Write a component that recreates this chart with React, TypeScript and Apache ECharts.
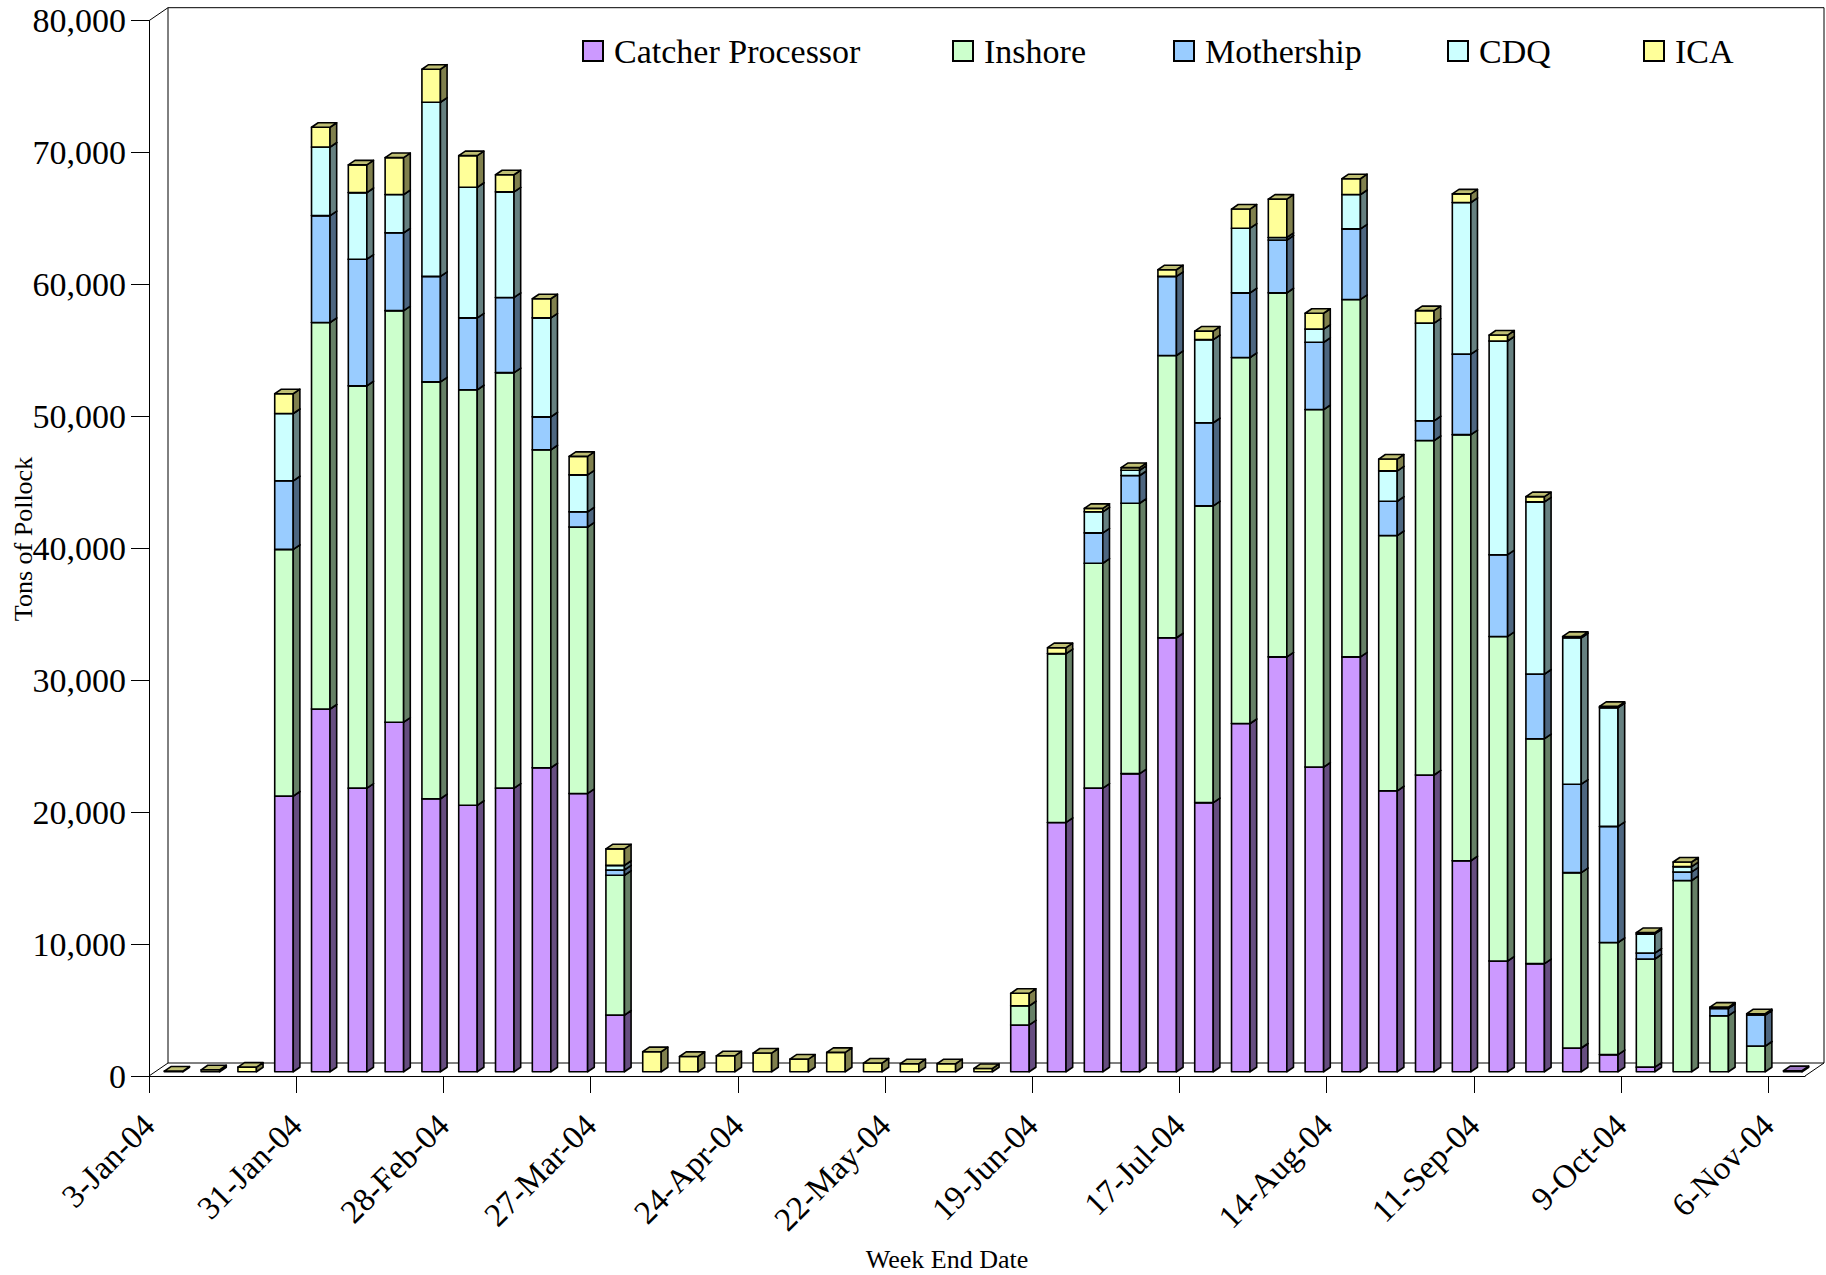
import React, { useEffect, useRef } from "react";
import * as echarts from "echarts";

// ---------------- DATA ----------------
const WEEKS = [
  "3-Jan-04", "10-Jan-04", "17-Jan-04", "24-Jan-04", "31-Jan-04",
  "7-Feb-04", "14-Feb-04", "21-Feb-04", "28-Feb-04",
  "6-Mar-04", "13-Mar-04", "20-Mar-04", "27-Mar-04",
  "3-Apr-04", "10-Apr-04", "17-Apr-04", "24-Apr-04",
  "1-May-04", "8-May-04", "15-May-04", "22-May-04", "29-May-04",
  "5-Jun-04", "12-Jun-04", "19-Jun-04", "26-Jun-04",
  "3-Jul-04", "10-Jul-04", "17-Jul-04", "24-Jul-04", "31-Jul-04",
  "7-Aug-04", "14-Aug-04", "21-Aug-04", "28-Aug-04",
  "4-Sep-04", "11-Sep-04", "18-Sep-04", "25-Sep-04",
  "2-Oct-04", "9-Oct-04", "16-Oct-04", "23-Oct-04", "30-Oct-04",
  "6-Nov-04",
];
// tick labels sit on the category boundaries (left edge of each week)
const TICK_LABELS = [...WEEKS, "13-Nov-04"];

const SERIES_NAMES = ["Catcher Processor", "Inshore", "Mothership", "CDQ", "ICA"];

const CATCHER_PROCESSOR = [
  0, 0, 0, 20900, 27500, 21500, 26500, 20700, 20200, 21500,
  23050, 21100, 4300, 0, 0, 0, 0, 0, 0, 0,
  0, 0, 0, 3550, 18900, 21500, 22600, 32900, 20400, 26400,
  31450, 23100, 31450, 21300, 22500, 16000, 8400, 8200, 1800, 1300,
  350, 0, 0, 0, 80,
];
const INSHORE = [
  0, 0, 0, 18700, 29300, 30500, 31200, 31600, 31500, 31500,
  24100, 20200, 10600, 0, 0, 0, 0, 0, 0, 0,
  0, 0, 0, 1450, 12800, 17050, 20500, 21400, 22500, 27750,
  27600, 27100, 27100, 19350, 25350, 32300, 24600, 17050, 13300, 8500,
  8200, 14500, 4250, 1950, 0,
];
const MOTHERSHIP = [
  0, 0, 0, 5200, 8100, 9600, 5900, 8000, 5450, 5700,
  2500, 1150, 400, 0, 0, 0, 0, 0, 0, 0,
  0, 0, 0, 0, 0, 2300, 2100, 6000, 6300, 4900,
  4000, 5100, 5350, 2600, 1500, 6100, 6200, 4900, 6700, 8800,
  450, 650, 550, 2350, 0,
];
const CDQ = [
  0, 0, 0, 5100, 5200, 5050, 2900, 13200, 9900, 8000,
  7500, 2800, 350, 0, 0, 0, 0, 0, 0, 0,
  0, 0, 0, 0, 0, 1600, 400, 0, 6300, 4900,
  200, 1000, 2600, 2300, 7400, 11500, 16200, 13050, 11100, 9000,
  1450, 400, 0, 0, 0,
];
const ICA = [
  50, 150, 350, 1500, 1500, 2100, 2800, 2500, 2400, 1300,
  1450, 1400, 1250, 1520, 1160, 1210, 1420, 960, 1470, 660,
  610, 610, 250, 950, 450, 260, 200, 500, 650, 1450,
  2900, 1200, 1200, 900, 950, 650, 450, 400, 100, 100,
  100, 350, 100, 100, 0,
];

const Y_MIN = 0;
const Y_MAX = 80000;
const Y_INTERVAL = 10000;

// ---------------- STYLE ----------------
const FRONT_COLORS = ["#CC99FF", "#CCFFCC", "#99CCFF", "#CCFFFF", "#FFFF99"];
const FONT = "Liberation Serif";
const FLOOR_DX = 19; // 3D depth of the plot floor
const FLOOR_DY = -13;
const BAR_DEPTH_FRAC = 0.35; // bar depth as share of the floor depth
const BAR_FRONT_FRAC = 0.325; // front face position inside the depth
const BAR_WIDTH_FRAC = 0.503; // front face width as share of category
const LEGEND_LEFTS = [582, 952, 1173, 1447, 1643];

function shade(hex: string, f: number): string {
  const n = parseInt(hex.slice(1), 16);
  const r = Math.round(((n >> 16) & 255) * f);
  const g = Math.round(((n >> 8) & 255) * f);
  const b = Math.round((n & 255) * f);
  return "rgb(" + r + "," + g + "," + b + ")";
}

function buildStacked(): number[][][] {
  const all = [CATCHER_PROCESSOR, INSHORE, MOTHERSHIP, CDQ, ICA];
  const acc = WEEKS.map(() => 0);
  return all.map((arr) =>
    arr.map((v, i) => {
      const base = acc[i];
      acc[i] = base + v;
      return [i, base, base + v];
    })
  );
}

function makeBarRender(colorIdx: number) {
  const front = FRONT_COLORS[colorIdx];
  const side = shade(front, 0.5);
  const top = shade(front, 0.75);
  return (params: any, api: any) => {
    const i = api.value(0);
    const b = api.value(1);
    const t = api.value(2);
    if (!(t > b)) return null;
    const cw = api.size([1, 0])[0];
    const pb = api.coord([i, b]);
    const pt = api.coord([i, t]);
    const fw = cw * BAR_WIDTH_FRAC;
    const ox = FLOOR_DX * BAR_FRONT_FRAC;
    const oy = FLOOR_DY * BAR_FRONT_FRAC;
    const dx = FLOOR_DX * BAR_DEPTH_FRAC;
    const dy = FLOOR_DY * BAR_DEPTH_FRAC;
    const L = pb[0] + ox - fw / 2;
    const R = L + fw;
    const yb = pb[1] + oy;
    const yt = pt[1] + oy;
    const st = { stroke: "#000", lineWidth: 1.6, lineJoin: "round" };
    return {
      type: "group",
      children: [
        {
          type: "polygon",
          shape: { points: [[L, yt], [R, yt], [R, yb], [L, yb]] },
          style: { ...st, fill: front },
        },
        {
          type: "polygon",
          shape: { points: [[R, yb], [R, yt], [R + dx, yt + dy], [R + dx, yb + dy]] },
          style: { ...st, fill: side },
        },
        {
          type: "polygon",
          shape: { points: [[L, yt], [R, yt], [R + dx, yt + dy], [L + dx, yt + dy]] },
          style: { ...st, fill: top },
        },
      ],
    };
  };
}

function wallsRender(params: any) {
  const { x, y, width, height } = params.coordSys;
  const ls = { stroke: "#000", lineWidth: 1, fill: "none" };
  return {
    type: "group",
    children: [
      {
        type: "rect",
        shape: { x: x + FLOOR_DX, y: y + FLOOR_DY, width, height },
        style: { fill: "#fff", stroke: "#000", lineWidth: 1 },
      },
      { type: "line", shape: { x1: x, y1: y, x2: x + FLOOR_DX, y2: y + FLOOR_DY }, style: ls },
      {
        type: "line",
        shape: { x1: x, y1: y + height, x2: x + FLOOR_DX, y2: y + height + FLOOR_DY },
        style: ls,
      },
      {
        type: "line",
        shape: {
          x1: x + width,
          y1: y + height,
          x2: x + width + FLOOR_DX,
          y2: y + height + FLOOR_DY,
        },
        style: ls,
      },
    ],
  };
}

export default function App() {
  const ref = useRef<HTMLDivElement>(null);
  useEffect(() => {
    if (!ref.current) return;
    const chart = echarts.init(ref.current, undefined, { renderer: "svg" });
    const stacked = buildStacked();

    const series: any[] = [
      {
        type: "custom",
        name: "__walls",
        silent: true,
        z: 0,
        data: [[0, 0]],
        renderItem: wallsRender,
        xAxisIndex: 0,
        yAxisIndex: 0,
      },
    ];
    SERIES_NAMES.forEach((name, k) => {
      series.push({
        type: "custom",
        name,
        silent: true,
        z: 2,
        itemStyle: { color: FRONT_COLORS[k] },
        data: stacked[k],
        encode: { x: 0, y: [1, 2] },
        renderItem: makeBarRender(k),
        xAxisIndex: 0,
        yAxisIndex: 0,
      });
    });

    const legends = SERIES_NAMES.map((name, k) => ({
      data: [name],
      left: LEGEND_LEFTS[k],
      top: 31,
      padding: 0,
      selectedMode: false,
      icon: "rect",
      itemWidth: 20,
      itemHeight: 20,
      itemStyle: { borderColor: "#000", borderWidth: 2 },
      textStyle: {
        fontFamily: FONT,
        fontSize: 34,
        color: "#000",
        lineHeight: 40,
        padding: [0, 0, 0, 6],
      },
    }));

    chart.setOption({
      animation: false,
      backgroundColor: "#fff",
      textStyle: { fontFamily: FONT },
      grid: { left: 149, top: 20.7, width: 1656, height: 1055.3, containLabel: false },
      legend: legends,
      xAxis: [
        {
          type: "category",
          data: WEEKS,
          boundaryGap: true,
          position: "bottom",
          show: false,
        },
        {
          type: "category",
          data: TICK_LABELS,
          boundaryGap: false,
          position: "bottom",
          axisLine: { show: true, lineStyle: { color: "#000", width: 1 } },
          axisTick: { show: true, interval: 3, length: 17, lineStyle: { color: "#000", width: 1 } },
          axisLabel: {
            interval: 3,
            rotate: 45,
            margin: 44,
            fontFamily: FONT,
            fontSize: 33,
            color: "#000",
            padding: [23, 0, 0, 0],
          },
          splitLine: { show: false },
        },
      ],
      yAxis: {
        type: "value",
        min: Y_MIN,
        max: Y_MAX,
        interval: Y_INTERVAL,
        axisLine: { show: true, lineStyle: { color: "#000", width: 1 } },
        axisTick: { show: true, length: 18, lineStyle: { color: "#000", width: 1 } },
        axisLabel: {
          margin: 23,
          fontFamily: FONT,
          fontSize: 34,
          color: "#000",
          formatter: (v: number) => v.toLocaleString("en-US"),
        },
        splitLine: { show: false },
      },
      graphic: [
        {
          type: "text",
          x: 23,
          y: 539,
          rotation: Math.PI / 2,
          style: {
            text: "Tons of Pollock",
            fontFamily: FONT,
            fontSize: 26,
            fill: "#000",
            align: "center",
            verticalAlign: "middle",
            textAlign: "center",
            textVerticalAlign: "middle",
          },
        },
        {
          type: "text",
          x: 947,
          y: 1259,
          style: {
            text: "Week End Date",
            fontFamily: FONT,
            fontSize: 26,
            fill: "#000",
            align: "center",
            verticalAlign: "middle",
            textAlign: "center",
            textVerticalAlign: "middle",
          },
        },
      ],
      series,
    });
    return () => chart.dispose();
  }, []);

  return (
    <div
      ref={ref}
      style={{ position: "absolute", left: 0, top: 0, width: 1826, height: 1275, background: "#fff" }}
    />
  );
}
